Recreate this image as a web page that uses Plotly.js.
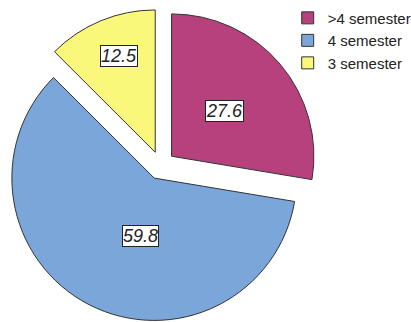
<!DOCTYPE html>
<html>
<head>
<meta charset="utf-8">
<script src="https://cdn.plot.ly/plotly-3.0.1.min.js"></script>
<style>html,body{margin:0;padding:0;background:#fff;}#chart{width:411px;height:322px;}</style>
</head>
<body>
<div id="chart"></div>
<script>
// Data
const categories = ['>4 semester', '4 semester', '3 semester'];
const values = [27.6, 59.8, 12.5];
const labelsText = ['27.6', '59.8', '12.5'];

// Style
const colors = ['#B7417D', '#7BA6DA', '#FAF87A'];
const pullFrac = 0.1;
const labelRadius = [0.49, 0.42, 0.72];   // fraction of radius from slice apex
const labelAngleShift = [0, -14, 2];      // degrees from bisector

const W = 411, H = 322;
const domX = [0.010, 0.772], domY = [0, 0.9725];
const cxPx = (domX[0] + domX[1]) / 2 * W;
const cyPx = H - (domY[0] + domY[1]) / 2 * H;
const rPx = Math.min((domX[1]-domX[0])*W, (domY[1]-domY[0])*H) / 2 / (1 + pullFrac);

const total = values.reduce((a, b) => a + b, 0);
let cum = 0;
const annotations = values.map((v, i) => {
  const mid = (cum + v / 2) / total * 2 * Math.PI;
  cum += v;
  const apx = cxPx + pullFrac * rPx * Math.sin(mid);
  const apy = cyPx - pullFrac * rPx * Math.cos(mid);
  const a = mid + labelAngleShift[i] * Math.PI / 180;
  const px = apx + labelRadius[i] * rPx * Math.sin(a);
  const py = apy - labelRadius[i] * rPx * Math.cos(a);
  return {
    x: px / W, y: 1 - py / H, xref: 'paper', yref: 'paper',
    text: labelsText[i], showarrow: false,
    font: {family: 'Liberation Sans, Arial, sans-serif', size: 18, color: '#222', style: 'italic'},
    bgcolor: '#ffffff', bordercolor: '#222', borderwidth: 1, borderpad: 0,
    xanchor: 'center', yanchor: 'middle'
  };
});

const trace = {
  type: 'pie',
  labels: categories,
  values: values,
  sort: false,
  direction: 'clockwise',
  rotation: 0,
  pull: values.map(() => pullFrac),
  textinfo: 'none',
  hoverinfo: 'label+value',
  marker: {colors: colors, line: {color: '#333', width: 1}},
  domain: {x: domX, y: domY}
};

const layout = {
  width: W, height: H,
  margin: {l: 0, r: 0, t: 0, b: 0, autoexpand: false},
  paper_bgcolor: '#ffffff',
  showlegend: true,
  legend: {
    x: 0.70, y: 0.995, xanchor: 'left', yanchor: 'top',
    font: {family: 'Liberation Sans, Arial, sans-serif', size: 15, color: '#222'},
    bgcolor: 'rgba(0,0,0,0)', tracegroupgap: 0, itemwidth: 30
  },
  annotations: annotations
};

Plotly.newPlot('chart', [trace], layout, {displayModeBar: false, staticPlot: true});
</script>
</body>
</html>
